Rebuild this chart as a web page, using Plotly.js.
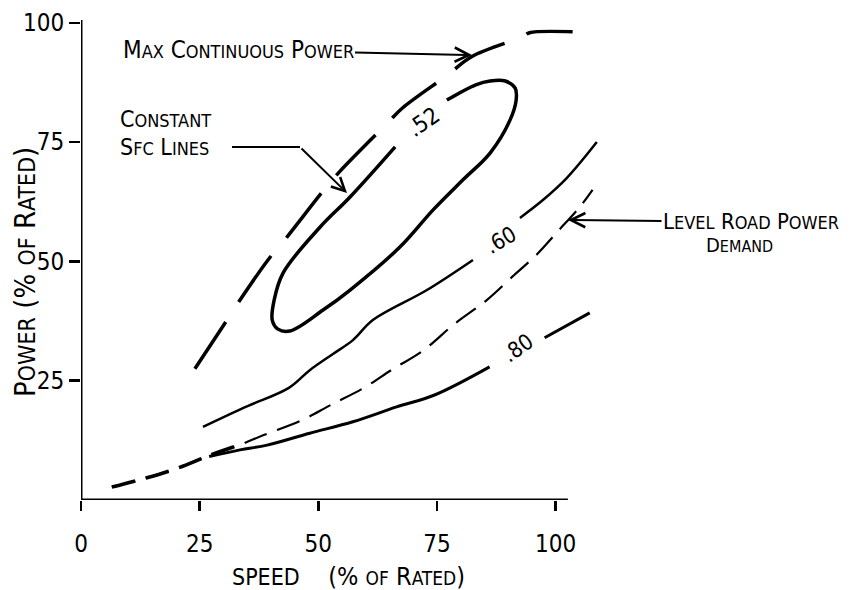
<!DOCTYPE html>
<html><head><meta charset="utf-8">
<script src="https://cdn.plot.ly/plotly-3.0.1.min.js"></script>
<style>html,body{margin:0;padding:0;background:#fff}</style>
</head><body><div id="chart" style="width:850px;height:590px"></div>
<script>
// ---- data (speed % of rated, power % of rated) ----
const xTickVals = [0, 25, 50, 75, 100];
const xTickText = ["0", "25", "50", "75", "100"];
const yTickVals = [25, 50, 75, 100];
const yTickText = ["25", "50", "75", "100"];

// constant sfc .52 loop (open where the label sits)
const sfc52X = [66.2, 56.7, 50.4, 42.6, 40.7, 40.3, 41.5, 44.0, 51.0, 56.7, 67.2, 74.2, 80.5, 86.2, 90.4, 91.7, 91.5, 89.4, 86.2, 83.2, 77.1];
const sfc52Y = [74.0, 63.5, 57.2, 47.6, 41.9, 37.7, 35.8, 35.4, 39.8, 44.0, 53.0, 60.8, 67.1, 72.7, 79.6, 83.8, 86.3, 87.8, 87.8, 87.0, 83.8];

// constant sfc .60 (gap for label)
const sfc60X = [25.7, 34.7, 43.8, 48.2, 53.1, 57.3, 61.5, 72.9, 82.6, null, 92.5, 97.4, 102.4, 108.7];
const sfc60Y = [15.3, 19.5, 23.5, 27.2, 30.6, 33.5, 37.7, 44.0, 50.3, null, 59.1, 62.9, 67.5, 75.0];

// constant sfc .80 (gap for label)
const sfc80X = [27.0, 33.5, 39.2, 48.2, 57.3, 66.5, 74.5, 86.1, null, 97.7, 107.2];
const sfc80Y = [9.1, 10.5, 11.5, 14.0, 16.4, 19.5, 22.0, 27.9, null, 34.0, 39.2];

// level road power demand
const roadX = [6.5, 13.7, 20.4, 27.2, 33.3, 38.5, 46.7, 52.6, 59.6, 65.5, 72.2, 78.7, 85.5, 90.9, 96.0, 100.2, 105.1, 107.8];
const roadY = [2.7, 4.6, 6.7, 9.4, 11.5, 13.6, 16.8, 19.9, 23.5, 27.3, 31.4, 36.9, 41.9, 46.8, 51.4, 56.0, 61.4, 65.0];

// max continuous power
const maxX = [24.0, 30.5, 33.5, 39.4, 43.4, 50.9, 54.5, 64.4, 67.8, 77.3, 82.3, 93.1, 94.5, 103.6];
const maxY = [27.5, 37.3, 41.9, 50.3, 55.1, 64.6, 68.8, 78.8, 82.2, 89.1, 92.9, 97.1, 97.9, 98.1];

// ---- layout helpers ----
const W = 850, H = 590;
const M = {l: 81, r: 247, t: 18, b: 90};
const PW = W - M.l - M.r, PH = H - M.t - M.b;
const px = v => (v - M.l) / PW;          // pixel x -> paper
const py = v => (H - M.b - v) / PH;      // pixel y -> paper
const FONT = '"DejaVu Sans Condensed", "DejaVu Sans", sans-serif';
const sm = (t, s) => `<span style="font-size:${s}px">${t}</span>`;

const line = (x, y, w, dash) => ({
  x, y, type: 'scatter', mode: 'lines', hoverinfo: 'skip', showlegend: false,
  connectgaps: false,
  line: {color: '#000', width: w, dash: dash || 'solid', shape: 'spline', smoothing: 1}
});

const traces = [
  line(maxX, maxY, 3.5, '56px,24px'),
  line(sfc52X, sfc52Y, 3.5),
  line(sfc60X, sfc60Y, 2.5),
  line(roadX, roadY, 2.2, '24px,11px'),
  line(roadX.slice(0, 5), roadY.slice(0, 5), 3.6, '24px,11px'),
  line(sfc80X, sfc80Y, 3)
];

const txt = (xp, yp, text, size, extra) => Object.assign({
  xref: 'paper', yref: 'paper', x: px(xp), y: py(yp), text, showarrow: false,
  xanchor: 'center', yanchor: 'middle',
  font: {family: FONT, size, color: '#000'}
}, extra || {});

const ann = [
  // curve labels
  txt(423, 122, '.52', 23, {textangle: -35}),
  txt(500, 240, '.60', 22, {textangle: -30}),
  txt(517, 348, '.80', 22, {textangle: -35}),
  // Max continuous power
  {xref: 'paper', yref: 'paper', x: px(472), y: py(55), ax: 238 - 472, ay: 50 - 55,
   text: 'M' + sm('AX', 18) + ' C' + sm('ONTINUOUS', 18) + ' P' + sm('OWER', 18),
   showarrow: true, arrowhead: 5, arrowsize: 1.4, arrowwidth: 2, arrowcolor: '#000', standoff: 0,
   font: {family: FONT, size: 24, color: '#000'}},
  // Constant sfc lines
  txt(118, 119, 'C' + sm('ONSTANT', 18), 23, {xanchor: 'left'}),
  txt(118, 147, 'S' + sm('FC', 18) + ' L' + sm('INES', 18), 23, {xanchor: 'left'}),
  {xref: 'paper', yref: 'paper', x: px(347), y: py(193), ax: 300 - 347, ay: 147 - 193, text: '',
   showarrow: true, arrowhead: 5, arrowsize: 1.3, arrowwidth: 2, arrowcolor: '#000', standoff: 0},
  // Level road power demand
  {xref: 'paper', yref: 'paper', x: px(568), y: py(220), ax: 751 - 568, ay: 222 - 220,
   text: 'L' + sm('EVEL', 18) + ' R' + sm('OAD', 18) + ' P' + sm('OWER', 18),
   showarrow: true, arrowhead: 5, arrowsize: 1.4, arrowwidth: 2, arrowcolor: '#000', standoff: 0,
   font: {family: FONT, size: 22, color: '#000'}},
  txt(739, 245, 'D' + sm('EMAND', 16), 20),
  // axis titles
  txt(348, 576, sm('SPEED', 23) + '&nbsp;&nbsp;&nbsp;&nbsp;(% ' + sm('OF', 19) + ' R' + sm('ATED', 19) + ')', 25),
  txt(25, 272, 'P' + sm('OWER', 23) + ' (% ' + sm('OF', 23) + ' R' + sm('ATED', 23) + ')', 29, {textangle: -90})
];

const layout = {
  width: W, height: H, margin: M,
  paper_bgcolor: '#fff', plot_bgcolor: '#fff',
  showlegend: false,
  xaxis: {range: [0, 110], showgrid: false, zeroline: false, showline: false,
    tickmode: 'array', tickvals: xTickVals, ticktext: xTickText,
    ticks: 'outside', ticklen: 10, tickwidth: 2.5, tickcolor: '#000', ticklabelstandoff: 12,
    tickfont: {family: FONT, size: 24, color: '#000'}},
  yaxis: {range: [0, 101], showgrid: false, zeroline: false, showline: false,
    tickmode: 'array', tickvals: yTickVals, ticktext: yTickText,
    ticks: 'outside', ticklen: 11, tickwidth: 2.5, tickcolor: '#000', ticklabelstandoff: 0,
    tickfont: {family: FONT, size: 24, color: '#000'}},
  shapes: [
    {type: 'line', xref: 'x', yref: 'y', x0: 0, y0: 0, x1: 102.6, y1: 0, line: {color: '#000', width: 3}},
    {type: 'line', xref: 'x', yref: 'y', x0: 0, y0: 0, x1: 0, y1: 100.6, line: {color: '#000', width: 3}},
    {type: 'line', xref: 'paper', yref: 'paper', x0: px(232), y0: py(147), x1: px(300), y1: py(147),
     line: {color: '#000', width: 2}}
  ],
  annotations: ann
};

Plotly.newPlot('chart', traces, layout, {displayModeBar: false, staticPlot: true});
</script>
</body></html>
